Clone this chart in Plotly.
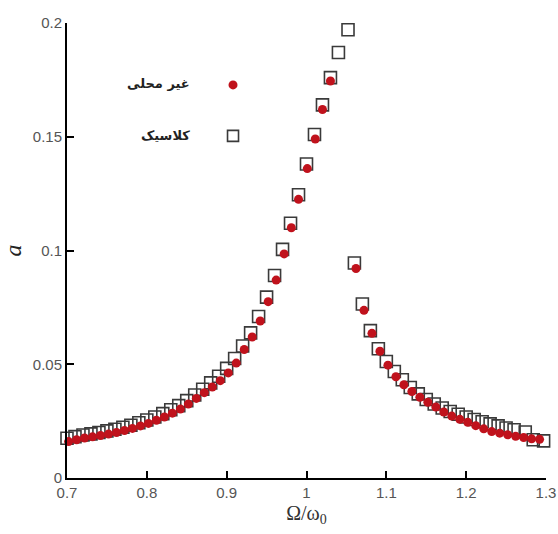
import plotly.graph_objects as go

# Classic (open squares)
classic_x = [0.70, 0.71, 0.72, 0.73, 0.74, 0.75, 0.76, 0.77, 0.78, 0.79,
             0.80, 0.81, 0.82, 0.83, 0.84, 0.85, 0.86, 0.87, 0.88, 0.89,
             0.90, 0.91, 0.92, 0.93, 0.94, 0.95, 0.96, 0.97, 0.98, 0.99,
             1.00, 1.01, 1.02, 1.03, 1.04, 1.052,
             1.06, 1.07, 1.08, 1.09, 1.10, 1.11, 1.12, 1.13, 1.14, 1.15,
             1.16, 1.17, 1.18, 1.19, 1.20, 1.21, 1.22, 1.23, 1.24, 1.25,
             1.26, 1.274, 1.284, 1.297]
classic_y = [0.0175, 0.0182, 0.0189, 0.0194, 0.0200, 0.0207, 0.0214, 0.0223, 0.0232, 0.0243,
             0.0255, 0.0268, 0.0283, 0.0300, 0.0318, 0.0340, 0.0365, 0.0390, 0.0418, 0.0447,
             0.0482, 0.0525, 0.0580, 0.0638, 0.0710, 0.0795, 0.0890, 0.1005, 0.1120, 0.1245,
             0.1380, 0.1510, 0.1640, 0.1760, 0.1870, 0.1970,
             0.0945, 0.0765, 0.0648, 0.0568, 0.0512, 0.0468, 0.0432, 0.0398, 0.0370, 0.0345,
             0.0325, 0.0308, 0.0292, 0.0280, 0.0268, 0.0257, 0.0247, 0.0238, 0.0229, 0.0220,
             0.0212, 0.0202, 0.0168, 0.0163]

# Non-local (filled red circles)
nonlocal_x = [0.702, 0.712, 0.722, 0.732, 0.742, 0.752, 0.762, 0.772, 0.782, 0.792,
              0.802, 0.812, 0.822, 0.832, 0.842, 0.852, 0.862, 0.872, 0.882, 0.892,
              0.902, 0.912, 0.922, 0.932, 0.942, 0.952, 0.962, 0.972, 0.981, 0.990,
              1.001, 1.011, 1.020, 1.030,
              1.062, 1.072, 1.082, 1.092, 1.102, 1.112, 1.122, 1.132, 1.142, 1.152,
              1.162, 1.172, 1.182, 1.192, 1.202, 1.212, 1.222, 1.232, 1.242, 1.252,
              1.262, 1.272, 1.282, 1.292]
nonlocal_y = [0.0160, 0.0168, 0.0176, 0.0181, 0.0187, 0.0193, 0.0200, 0.0209, 0.0218, 0.0229,
              0.0240, 0.0254, 0.0268, 0.0285, 0.0303, 0.0325, 0.0350, 0.0375, 0.0400, 0.0428,
              0.0462, 0.0505, 0.0565, 0.0620, 0.0690, 0.0775, 0.0870, 0.0985, 0.1100, 0.1225,
              0.1360, 0.1490, 0.1620, 0.1745,
              0.0921, 0.0737, 0.0636, 0.0557, 0.0496, 0.0445, 0.0410, 0.0380, 0.0355, 0.0333,
              0.0312, 0.0290, 0.0272, 0.0258, 0.0245, 0.0230, 0.0216, 0.0204, 0.0197, 0.0190,
              0.0183, 0.0178, 0.0172, 0.0170]

x_ticks = [0.7, 0.8, 0.9, 1.0, 1.1, 1.2, 1.3]
y_ticks = [0, 0.05, 0.1, 0.15, 0.2]

label_nonlocal = "غیر محلی"
label_classic = "کلاسیک"

RED = "#c0121c"
GRAY = "#3a3a3a"

fig = go.Figure()
fig.add_trace(go.Scatter(
    x=classic_x, y=classic_y, mode="markers", name=label_classic,
    marker=dict(symbol="square-open", size=12, color=GRAY, line=dict(width=1.6, color=GRAY)),
    cliponaxis=False))
fig.add_trace(go.Scatter(
    x=nonlocal_x, y=nonlocal_y, mode="markers", name=label_nonlocal,
    marker=dict(symbol="circle", size=9, color=RED, line=dict(width=0)),
    cliponaxis=False))

axis_common = dict(
    showgrid=False, zeroline=False, showline=True, linecolor="black", linewidth=2,
    ticks="inside", ticklen=7, tickwidth=2, tickcolor="black",
    tickfont=dict(family="Liberation Sans, Arial", size=15, color="#555555"),
    mirror=False, automargin=False,
)

fig.update_layout(
    width=558, height=534,
    margin=dict(l=67, r=12, t=23, b=56),
    paper_bgcolor="white", plot_bgcolor="white",
    showlegend=False,
    xaxis=dict(range=[0.7, 1.3], tickvals=x_ticks, ticktext=[f"{v:g}" for v in x_ticks],
               title=dict(text="Ω/ω<sub>0</sub>", standoff=6,
                          font=dict(family="Liberation Serif, Times New Roman", size=20, color="#333333")),
               **axis_common),
    yaxis=dict(range=[0, 0.2], tickvals=y_ticks, ticktext=[f"{v:g}" for v in y_ticks],
               title=dict(text="<i>a</i>", standoff=6,
                          font=dict(family="Liberation Serif, Times New Roman", size=24, color="#222222")),
               **axis_common),
)

# legend text (right-to-left labels to the left of symbols)
fig.add_annotation(x=0.261, y=0.866, xref="paper", yref="paper", xanchor="right", yanchor="middle",
                   text="<b>" + label_nonlocal + "</b>", showarrow=False,
                   font=dict(family="DejaVu Sans", size=13, color="#222222"))
fig.add_annotation(x=0.261, y=0.752, xref="paper", yref="paper", xanchor="right", yanchor="middle",
                   text="<b>" + label_classic + "</b>", showarrow=False,
                   font=dict(family="DejaVu Sans", size=13, color="#222222"))
fig.add_shape(type="circle", xref="paper", yref="paper", xsizemode="pixel", ysizemode="pixel",
              xanchor=0.3466, yanchor=0.864, x0=-4.5, x1=4.5, y0=-4.5, y1=4.5,
              fillcolor=RED, line=dict(width=0))
fig.add_shape(type="rect", xref="paper", yref="paper", xsizemode="pixel", ysizemode="pixel",
              xanchor=0.3466, yanchor=0.752, x0=-5.5, x1=5.5, y0=-5.5, y1=5.5,
              fillcolor="rgba(0,0,0,0)", line=dict(width=1.6, color=GRAY))

fig.write_html("out.html")
